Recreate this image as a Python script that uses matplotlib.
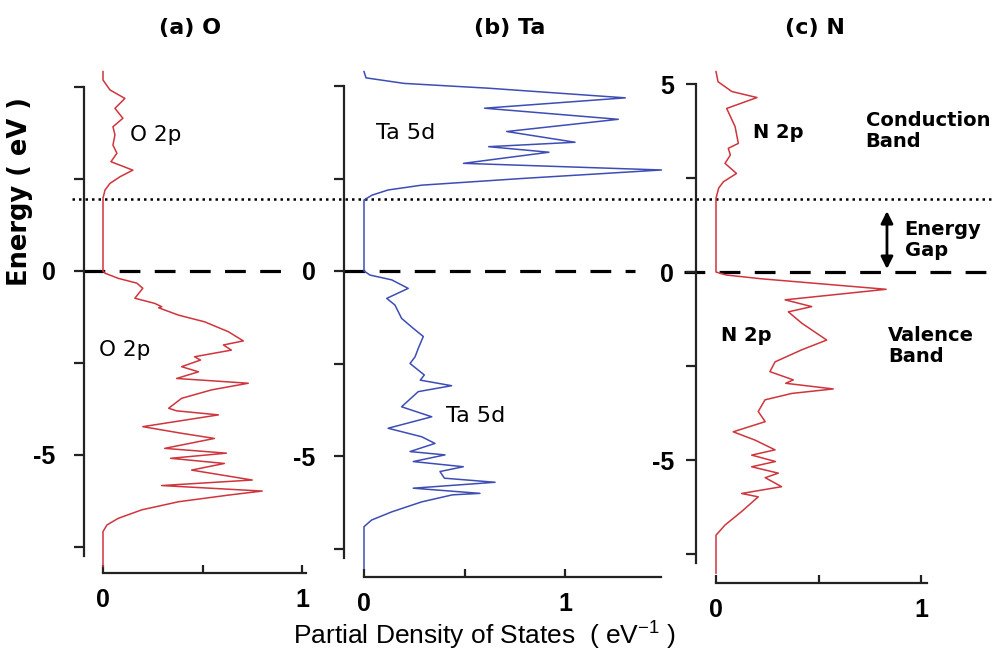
import matplotlib
matplotlib.use("Agg")
import matplotlib.pyplot as plt

plt.rcParams['font.family'] = ['Liberation Sans', 'DejaVu Sans']
plt.rcParams['mathtext.fontset'] = 'custom'
plt.rcParams['mathtext.rm'] = 'Liberation Sans'

# ---------------- data ----------------
titles = ["(a) O", "(b) Ta", "(c) N"]
gap_energy = 1.95  # conduction band minimum (dotted line), eV

# (a) O 2p partial DOS
o_energy = [5.42, 5.19, 4.92, 4.69, 4.42, 4.15, 3.92, 3.70, 3.42, 3.20, 2.97, 2.74, 2.56, 2.38,
            2.20, 1.98, 0.00, -0.06, -0.20, -0.33, -0.47, -0.74, -0.88, -0.97, -1.00, -1.20,
            -1.38, -1.65, -1.90, -2.01, -2.15, -2.33, -2.42, -2.60, -2.74, -2.92, -3.05, -3.23,
            -3.46, -3.73, -3.80, -3.91, -4.23, -4.41, -4.55, -4.82, -4.95, -5.09, -5.23, -5.41,
            -5.68, -5.83, -5.98, -6.09, -6.27, -6.49, -6.72, -6.90, -7.08, -8.03]
o_dos = [0.00, 0.00, 0.035, 0.11, 0.06, 0.10, 0.05, 0.06, 0.05, 0.07, 0.04, 0.15, 0.085, 0.035,
         0.01, 0.00, 0.00, 0.01, 0.077, 0.17, 0.20, 0.16, 0.26, 0.295, 0.28, 0.38,
         0.51, 0.63, 0.705, 0.605, 0.645, 0.46, 0.49, 0.395, 0.48, 0.37, 0.73, 0.546,
         0.395, 0.33, 0.37, 0.58, 0.20, 0.395, 0.56, 0.31, 0.62, 0.34, 0.61, 0.445,
         0.75, 0.295, 0.80, 0.63, 0.38, 0.195, 0.077, 0.02, 0.00, 0.00]

# (b) Ta 5d partial DOS
ta_energy = [5.39, 5.22, 5.07, 4.94, 4.68, 4.40, 4.10, 3.77, 3.48, 3.36, 3.21, 2.91, 2.73, 2.50,
             2.32, 2.19, 2.05, 1.92, 0.00, -0.11, -0.24, -0.47, -0.74, -0.92, -1.28, -1.55,
             -1.77, -2.09, -2.32, -2.50, -2.81, -2.95, -3.10, -3.26, -3.67, -3.94, -4.25, -4.48,
             -4.66, -4.88, -4.97, -5.15, -5.29, -5.42, -5.60, -5.71, -5.87, -6.01, -6.05, -6.24,
             -6.51, -6.73, -6.91, -8.04]
ta_dos = [0.00, 0.01, 0.20, 0.62, 1.30, 0.60, 1.265, 0.71, 1.05, 0.62, 0.92, 0.495, 1.48, 0.785,
          0.287, 0.12, 0.04, 0.00, 0.00, 0.03, 0.138, 0.22, 0.113, 0.154, 0.187, 0.245,
          0.295, 0.27, 0.254, 0.229, 0.30, 0.28, 0.436, 0.27, 0.187, 0.337, 0.12, 0.287,
          0.353, 0.229, 0.403, 0.245, 0.494, 0.378, 0.40, 0.652, 0.245, 0.577, 0.44, 0.287,
          0.138, 0.038, 0.00, 0.00]

# (c) N 2p partial DOS
n_energy = [5.33, 5.06, 4.80, 4.64, 4.35, 3.87, 3.42, 3.29, 3.11, 2.89, 2.62, 2.40, 2.23, 1.96,
            0.00, -0.08, -0.18, -0.46, -0.74, -0.92, -1.06, -1.36, -1.81, -2.07, -2.39, -2.65,
            -2.87, -2.96, -3.11, -3.23, -3.40, -3.71, -3.98, -4.25, -4.47, -4.73, -4.87, -5.04,
            -5.18, -5.35, -5.47, -5.71, -5.89, -5.98, -6.37, -6.73, -7.00, -8.01]
n_dos = [0.00, 0.01, 0.077, 0.20, 0.052, 0.093, 0.109, 0.06, 0.07, 0.044, 0.10, 0.036, 0.013, 0.00,
         0.00, 0.05, 0.22, 0.83, 0.337, 0.467, 0.353, 0.418, 0.54, 0.418, 0.288, 0.263,
         0.377, 0.34, 0.572, 0.369, 0.239, 0.206, 0.24, 0.084, 0.19, 0.288, 0.174, 0.29,
         0.174, 0.304, 0.24, 0.32, 0.125, 0.206, 0.125, 0.044, 0.00, 0.00]

y_ticks = [5, 2.5, 0, -2.5, -5, -7.5]
y_labels = [["", "", "0", "", "-5", ""],
            ["", "", "0", "", "-5", ""],
            ["5", "", "0", "", "-5", ""]]
x_ticks = [0, 0.5, 1]
x_labels = ["0", "", "1"]

# ---------------- layout ----------------
W, H = 992, 650
fig = plt.figure(figsize=(W / 100, H / 100), dpi=100)

TICKFONT = ['Liberation Sans Narrow', 'Liberation Sans', 'DejaVu Sans']
WIDEFONT = ['DejaVu Sans']

# pixel boxes and pixel mapping of data for each panel:
# (x_left, x_right, y_top, y_bottom, px_of_x0, px_per_unit, py_of_E0, py_per_eV)
panels = [
    (84, 310, 65, 573, 103, 199, 271, 36.8),
    (344, 665, 65, 577, 364, 201, 271, 37.0),
    (696, 930, 65, 583, 716, 205, 272, 37.6),
]
ypads = [13.5, 13.5, 9]
xspine_end = [1.02, 1.48, 1.03]
colors = ["#d0343c", "#3d4db5", "#d0343c"]
series = [(o_energy, o_dos), (ta_energy, ta_dos), (n_energy, n_dos)]

axes = []
for i, (xl, xr, yt, yb, px0, ppu, py0, ppe) in enumerate(panels):
    ax = fig.add_axes([xl / W, 1 - yb / H, (xr - xl) / W, (yb - yt) / H])
    ax.set_xlim((xl - px0) / ppu, (xr - px0) / ppu)
    ax.set_ylim((py0 - yb) / ppe, (py0 - yt) / ppe)
    ax.patch.set_alpha(0)
    for s in ("top", "right"):
        ax.spines[s].set_visible(False)
    for s in ("left", "bottom"):
        ax.spines[s].set_linewidth(1.6)
        ax.spines[s].set_color("#222222")
    ax.spines["left"].set_bounds(-7.75, 5.0)
    ax.spines["bottom"].set_bounds(0, xspine_end[i])

    E, D = series[i]
    ax.plot(D, E, color=colors[i], lw=1.1, clip_on=False)

    ax.set_yticks(y_ticks)
    ax.set_yticklabels(y_labels[i], fontsize=18, fontweight="bold", family=TICKFONT)
    ax.tick_params(axis="y", direction="out", length=7, width=1.6, pad=ypads[i], color="#222222")
    ax.set_xticks(x_ticks)
    ax.set_xticklabels(x_labels, fontsize=18, fontweight="bold", family=TICKFONT)
    ax.tick_params(axis="x", direction="in", length=6, width=1.6, pad=11, color="#222222")
    axes.append(ax)

ax_a, ax_b, ax_c = axes

# reference lines: Fermi level (dashed) and conduction-band minimum (dotted)
dash = dict(color="black", lw=2.3, linestyle=(0, (6.5, 4.5)), clip_on=False, zorder=1)
ax_a.axhline(0, xmin=0, xmax=(283 - 84) / 226, **dash)
ax_b.axhline(0, xmin=0, xmax=(635 - 344) / 321, **dash)
ax_c.axhline(0, xmin=(684 - 696) / 234, xmax=(992 - 696) / 234, **dash)
ax_a.axhline(gap_energy, xmin=(72 - 84) / 226, xmax=(992 - 84) / 226, color="black",
             lw=1.8, linestyle=(0, (1, 1.6)), clip_on=False, zorder=1)

# annotations
ax_a.text(0.136, 3.70, "O 2p", fontsize=15.5, va="center", ha="left", family=WIDEFONT)
ax_a.text(-0.02, -2.15, "O 2p", fontsize=15.5, va="center", ha="left", family=WIDEFONT)
ax_b.text(0.06, 3.73, "Ta 5d", fontsize=16, va="center", ha="left", family=WIDEFONT)
ax_b.text(0.41, -3.92, "Ta 5d", fontsize=16, va="center", ha="left", family=WIDEFONT)
ax_c.text(0.18, 3.72, "N 2p", fontsize=14, va="center", ha="left", fontweight="bold",
          family=WIDEFONT)
ax_c.text(0.024, -1.70, "N 2p", fontsize=14, va="center", ha="left", fontweight="bold",
          family=WIDEFONT)
band_kw = dict(fontsize=14, va="center", ha="left", fontweight="bold", linespacing=1.1,
               family=WIDEFONT)
ax_c.text(0.73, 3.75, "Conduction\nBand", **band_kw)
ax_c.text(0.92, 0.85, "Energy\nGap", **band_kw)
ax_c.text(0.84, -1.97, "Valence\nBand", **band_kw)
ax_c.annotate("", xy=(0.834, 0.08), xytext=(0.834, 1.62),
              arrowprops=dict(arrowstyle="<|-|>", lw=2.0, color="black", mutation_scale=18,
                              shrinkA=0, shrinkB=0),
              annotation_clip=False)

# titles and axis labels
title_x = [190, 510, 815]
for t, x in zip(titles, title_x):
    fig.text(x / W, 1 - 28 / H, t, fontsize=16, fontweight="bold", ha="center", va="center",
             family=WIDEFONT)
fig.text(20 / W, 1 - 192 / H, "Energy ( eV )", rotation=90, fontsize=18.5, fontweight="bold",
         ha="center", va="center", family=WIDEFONT)
fig.text(485 / W, 1 - 635 / H, r"Partial Density of States  ( eV$^{\mathregular{-1}}$ )",
         fontsize=19, ha="center", va="center")

fig.savefig("out.png", dpi=100)
